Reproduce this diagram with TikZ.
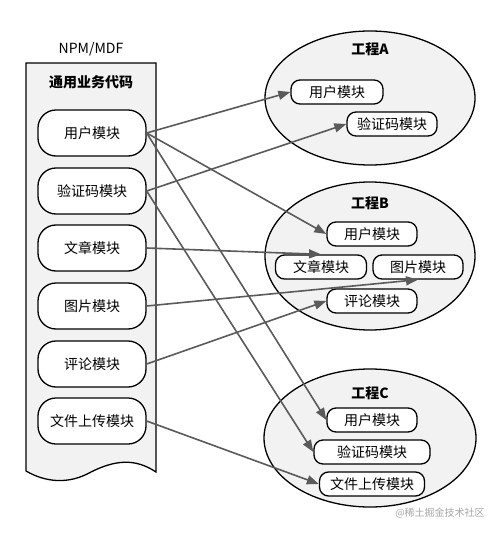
\documentclass[tikz,border=0pt]{standalone}
\usepackage{fontspec}
\setmainfont{Noto Sans CJK SC}
\usetikzlibrary{arrows.meta,shapes.geometric}
\definecolor{panelfill}{HTML}{F2F2F2}
\definecolor{arrowgray}{HTML}{5A5A5A}
\tikzset{
  bigpill/.style={draw=black, line width=1.3pt, fill=white, rounded corners=18pt,
    minimum width=108pt, minimum height=46pt, inner sep=0pt, font=\fontsize{14}{16}\selectfont},
  smallpill/.style={draw=black, line width=1.3pt, fill=white, rounded corners=9pt,
    minimum height=24pt, inner sep=0pt, font=\fontsize{14}{16}\selectfont},
  proj/.style={draw=black, line width=1.3pt, fill=panelfill, ellipse, inner sep=0pt},
  title/.style={font=\fontsize{14}{16}\selectfont\bfseries},
  conn/.style={draw=arrowgray, line width=1.6pt, -{Triangle[length=12pt,width=9pt]}}
}
\begin{document}
\begin{tikzpicture}[x=1pt,y=-1pt]
\useasboundingbox (0,0) rectangle (500,534);
% left panel
\node[font=\fontsize{14}{16}\selectfont] (npm) at (91,49) {NPM/MDF};
\draw[line width=1.3pt, fill=panelfill] (26,63) -- (156,63) -- (156,472)
  .. controls (135,458) and (115,460) .. (91,472)
  .. controls (68,485) and (45,482) .. (26,471) -- cycle;
\node[title] (common) at (91,82) {通用业务代码};
\node[bigpill] (L1) at (92,133) {用户模块};
\node[bigpill] (L2) at (92,191) {验证码模块};
\node[bigpill] (L3) at (92,248) {文章模块};
\node[bigpill] (L4) at (92,306) {图片模块};
\node[bigpill] (L5) at (92,364) {评论模块};
\node[bigpill] (L6) at (92,421) {文件上传模块};
% project A
\node[proj, minimum width=210pt, minimum height=134pt] (PA) at (370,98) {};
\node[title] (tA) at (370,49) {工程A};
\node[smallpill, minimum width=92pt] (A1) at (337,92) {用户模块};
\node[smallpill, minimum width=90pt] (A2) at (392,124) {验证码模块};
% project B
\node[proj, minimum width=210pt, minimum height=148pt] (PB) at (370,256) {};
\node[title] (tB) at (370,203) {工程B};
\node[smallpill, minimum width=90pt] (B1) at (372,234) {用户模块};
\node[smallpill, minimum width=91pt] (B2) at (321,267) {文章模块};
\node[smallpill, minimum width=90pt] (B3) at (418,267) {图片模块};
\node[smallpill, minimum width=90pt] (B4) at (372,301) {评论模块};
% project C
\node[proj, minimum width=212pt, minimum height=138pt] (PC) at (370,438) {};
\node[title] (tC) at (370,393) {工程C};
\node[smallpill, minimum width=90pt] (C1) at (372,420) {用户模块};
\node[smallpill, minimum width=116pt] (C2) at (372,452) {验证码模块};
\node[smallpill, minimum width=105pt] (C3) at (372,484) {文件上传模块};
% connectors
\draw[conn] (L1.east) -- (A1.west);
\draw[conn] (L1.east) -- (B1.west);
\draw[conn] (L1.east) -- (C1.west);
\draw[conn] (L2.east) -- (A2.west);
\draw[conn] (L2.east) -- (C2.west);
\draw[conn] (L3.east) -- (B2.north);
\draw[conn] (L4.east) -- (B3.south);
\draw[conn] (L5.east) -- (B4.west);
\draw[conn] (L6.east) -- (C3.west);
% watermark
\node[text=black!35, font=\fontsize{10}{12}\selectfont] (wm) at (440,513) {@稀土掘金技术社区};
\end{tikzpicture}
\end{document}
